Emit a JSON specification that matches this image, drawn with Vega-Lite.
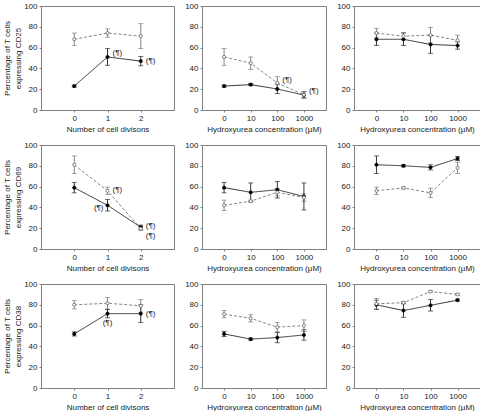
{
  "$schema": "https://vega.github.io/schema/vega-lite/v6.json",
  "padding": {"left": 3, "top": 1, "right": 0, "bottom": 0},
  "background": "white",
  "config": {
    "font": "Liberation Sans",
    "view": {"stroke": "#808080", "strokeWidth": 1},
    "axis": {"grid": false, "labelFontSize": 8, "titleFontSize": 8, "titleFontWeight": "normal", "labelColor": "#222222", "titleColor": "#222222", "domainColor": "#808080", "tickColor": "#808080", "tickSize": 2, "labelPadding": 2, "domainWidth": 1, "labelFont": "Liberation Sans", "titleFont": "Liberation Sans"},
    "axisX": {"labelAngle": 0, "titlePadding": 3},
    "axisY": {"titlePadding": 1, "titleLineHeight": 11}
  },
  "datasets": {
    "p1": [
      {"div": 0, "pct": 23, "err": 1, "group": "Group 1"},
      {"div": 1, "pct": 51, "err": 8, "group": "Group 1"},
      {"div": 2, "pct": 47, "err": 4.5, "group": "Group 1"},
      {"div": 0, "pct": 68, "err": 6, "group": "Group 2"},
      {"div": 1, "pct": 74, "err": 4, "group": "Group 2"},
      {"div": 2, "pct": 71, "err": 12, "group": "Group 2"}
    ],
    "p2": [
      {"conc": "0", "pct": 23, "err": 1, "group": "Group 1"},
      {"conc": "10", "pct": 24.4, "err": 1, "group": "Group 1"},
      {"conc": "100", "pct": 20.2, "err": 4.5, "group": "Group 1"},
      {"conc": "1000", "pct": 14.4, "err": 3, "group": "Group 1"},
      {"conc": "0", "pct": 51, "err": 8, "group": "Group 2"},
      {"conc": "10", "pct": 45, "err": 6, "group": "Group 2"},
      {"conc": "100", "pct": 26, "err": 6, "group": "Group 2"},
      {"conc": "1000", "pct": 14.7, "err": 3, "group": "Group 2"}
    ],
    "p3": [
      {"conc": "0", "pct": 68, "err": 6, "group": "Group 1"},
      {"conc": "10", "pct": 68, "err": 6, "group": "Group 1"},
      {"conc": "100", "pct": 63, "err": 8.5, "group": "Group 1"},
      {"conc": "1000", "pct": 62, "err": 3.5, "group": "Group 1"},
      {"conc": "0", "pct": 74, "err": 4.5, "group": "Group 2"},
      {"conc": "10", "pct": 71, "err": 3.5, "group": "Group 2"},
      {"conc": "100", "pct": 72, "err": 7.5, "group": "Group 2"},
      {"conc": "1000", "pct": 67, "err": 5, "group": "Group 2"}
    ],
    "p4": [
      {"div": 0, "pct": 59, "err": 5, "group": "Group 1"},
      {"div": 1, "pct": 42, "err": 5.5, "group": "Group 1"},
      {"div": 2, "pct": 21, "err": 2, "group": "Group 1"},
      {"div": 0, "pct": 81, "err": 8.5, "group": "Group 2"},
      {"div": 1, "pct": 56, "err": 3.5, "group": "Group 2"},
      {"div": 2, "pct": 19.6, "err": 2, "group": "Group 2"}
    ],
    "p5": [
      {"conc": "0", "pct": 59, "err": 5, "group": "Group 1"},
      {"conc": "10", "pct": 54.5, "err": 9, "group": "Group 1"},
      {"conc": "100", "pct": 57, "err": 8, "group": "Group 1"},
      {"conc": "1000", "pct": 50.5, "err": 13, "group": "Group 1"},
      {"conc": "0", "pct": 42, "err": 5, "group": "Group 2"},
      {"conc": "10", "pct": 46, "err": 1, "group": "Group 2"},
      {"conc": "100", "pct": 54.5, "err": 3.5, "group": "Group 2"},
      {"conc": "1000", "pct": 49.5, "err": 3.5, "group": "Group 2"}
    ],
    "p6": [
      {"conc": "0", "pct": 81, "err": 8.5, "group": "Group 1"},
      {"conc": "10", "pct": 80, "err": 1, "group": "Group 1"},
      {"conc": "100", "pct": 78.5, "err": 2.5, "group": "Group 1"},
      {"conc": "1000", "pct": 87, "err": 2, "group": "Group 1"},
      {"conc": "0", "pct": 56, "err": 3.5, "group": "Group 2"},
      {"conc": "10", "pct": 58.7, "err": 1, "group": "Group 2"},
      {"conc": "100", "pct": 54, "err": 4.5, "group": "Group 2"},
      {"conc": "1000", "pct": 78, "err": 5.5, "group": "Group 2"}
    ],
    "p7": [
      {"div": 0, "pct": 52, "err": 2, "group": "Group 1"},
      {"div": 1, "pct": 71.5, "err": 4, "group": "Group 1"},
      {"div": 2, "pct": 71.5, "err": 8.5, "group": "Group 1"},
      {"div": 0, "pct": 80, "err": 4, "group": "Group 2"},
      {"div": 1, "pct": 81.5, "err": 5.5, "group": "Group 2"},
      {"div": 2, "pct": 79, "err": 6, "group": "Group 2"}
    ],
    "p8": [
      {"conc": "0", "pct": 52, "err": 2.5, "group": "Group 1"},
      {"conc": "10", "pct": 47, "err": 1, "group": "Group 1"},
      {"conc": "100", "pct": 48.5, "err": 5, "group": "Group 1"},
      {"conc": "1000", "pct": 51, "err": 5, "group": "Group 1"},
      {"conc": "0", "pct": 71, "err": 3.5, "group": "Group 2"},
      {"conc": "10", "pct": 67, "err": 3.5, "group": "Group 2"},
      {"conc": "100", "pct": 58.5, "err": 4.5, "group": "Group 2"},
      {"conc": "1000", "pct": 60, "err": 5.5, "group": "Group 2"}
    ],
    "p9": [
      {"conc": "0", "pct": 80, "err": 4.5, "group": "Group 1"},
      {"conc": "10", "pct": 74.5, "err": 6.5, "group": "Group 1"},
      {"conc": "100", "pct": 79.5, "err": 5.5, "group": "Group 1"},
      {"conc": "1000", "pct": 84.5, "err": 1, "group": "Group 1"},
      {"conc": "0", "pct": 81, "err": 5, "group": "Group 2"},
      {"conc": "10", "pct": 82, "err": 1, "group": "Group 2"},
      {"conc": "100", "pct": 92.7, "err": 1, "group": "Group 2"},
      {"conc": "1000", "pct": 90, "err": 1, "group": "Group 2"}
    ],
    "a1": [{"div": 1, "pct": 55, "label": "(¶)"}, {"div": 2, "pct": 47, "label": "(¶)"}],
    "a2": [{"conc": "100", "pct": 29, "label": "(¶)"}, {"conc": "1000", "pct": 18, "label": "(¶)"}],
    "a4r": [{"div": 1, "pct": 57, "label": "(¶)"}, {"div": 2, "pct": 22.5, "label": "(¶)"}, {"div": 2, "pct": 12.5, "label": "(¶)"}],
    "a4l": [{"div": 1, "pct": 39, "label": "(¶)"}],
    "a7r": [{"div": 2, "pct": 71.5, "label": "(¶)"}],
    "a7c": [{"div": 1, "pct": 62.5, "label": "(¶)"}]
  },
  "columns": 3,
  "spacing": {"row": 35, "column": 28},
  "bounds": "flush",
  "align": "each",
  "concat": [
        {
          "width": 133, "height": 104,
          "data": {"name": "p1"},
          "encoding": {
            "x": {"field": "div", "type": "quantitative", "scale": {"domain": [-1, 3], "nice": false}, "axis": {"values": [0, 1, 2], "format": "d", "title": "Number of cell divisons"}},
            "y": {"field": "pct", "type": "quantitative", "scale": {"domain": [0, 100], "nice": false}, "axis": {"values": [0, 20, 40, 60, 80, 100], "title": ["Percentage of T cells", "expressing CD25"]}}
          },
          "layer": [
            {"mark": {"type": "line", "strokeWidth": 0.8}, "encoding": {"color": {"field": "group", "type": "nominal", "scale": {"domain": ["Group 1", "Group 2"], "range": ["#000000", "#666666"]}, "legend": null}, "strokeDash": {"field": "group", "type": "nominal", "scale": {"domain": ["Group 1", "Group 2"], "range": [[1, 0], [3, 2]]}, "legend": null}}},
            {"mark": {"type": "errorbar", "ticks": {"size": 5}, "thickness": 0.8}, "encoding": {"yError": {"field": "err"}, "color": {"field": "group", "type": "nominal", "legend": null}}},
            {"mark": {"type": "point", "filled": true, "size": 10, "strokeWidth": 0.8, "opacity": 1}, "encoding": {"fill": {"field": "group", "type": "nominal", "scale": {"domain": ["Group 1", "Group 2"], "range": ["#000000", "#ffffff"]}, "legend": null}, "stroke": {"field": "group", "type": "nominal", "scale": {"domain": ["Group 1", "Group 2"], "range": ["#000000", "#666666"]}, "legend": null}}},
            {"data": {"name": "a1"}, "mark": {"type": "text", "align": "left", "dx": 5, "fontSize": 8, "color": "#222222"}, "encoding": {"text": {"field": "label"}}}
          ]
        },
        {
          "width": 124, "height": 104,
          "data": {"name": "p2"},
          "encoding": {
            "x": {"field": "conc", "type": "ordinal", "sort": ["0", "10", "100", "1000"], "scale": {"type": "point", "padding": 0.83}, "axis": {"title": "Hydroxyurea concentration (µM)"}},
            "y": {"field": "pct", "type": "quantitative", "scale": {"domain": [0, 100], "nice": false}, "axis": {"values": [0, 20, 40, 60, 80, 100], "title": null}}
          },
          "layer": [
            {"mark": {"type": "line", "strokeWidth": 0.8}, "encoding": {"color": {"field": "group", "type": "nominal", "scale": {"domain": ["Group 1", "Group 2"], "range": ["#000000", "#666666"]}, "legend": null}, "strokeDash": {"field": "group", "type": "nominal", "scale": {"domain": ["Group 1", "Group 2"], "range": [[1, 0], [3, 2]]}, "legend": null}}},
            {"mark": {"type": "errorbar", "ticks": {"size": 5}, "thickness": 0.8}, "encoding": {"yError": {"field": "err"}, "color": {"field": "group", "type": "nominal", "legend": null}}},
            {"mark": {"type": "point", "filled": true, "size": 10, "strokeWidth": 0.8, "opacity": 1}, "encoding": {"fill": {"field": "group", "type": "nominal", "scale": {"domain": ["Group 1", "Group 2"], "range": ["#000000", "#ffffff"]}, "legend": null}, "stroke": {"field": "group", "type": "nominal", "scale": {"domain": ["Group 1", "Group 2"], "range": ["#000000", "#666666"]}, "legend": null}}},
            {"data": {"name": "a2"}, "mark": {"type": "text", "align": "left", "dx": 5, "fontSize": 8, "color": "#222222"}, "encoding": {"text": {"field": "label"}}}
          ]
        },
        {
          "width": 126, "height": 104,
          "data": {"name": "p3"},
          "encoding": {
            "x": {"field": "conc", "type": "ordinal", "sort": ["0", "10", "100", "1000"], "scale": {"type": "point", "padding": 0.83}, "axis": {"title": "Hydroxyurea concentration (µM)"}},
            "y": {"field": "pct", "type": "quantitative", "scale": {"domain": [0, 100], "nice": false}, "axis": {"values": [0, 20, 40, 60, 80, 100], "title": null}}
          },
          "layer": [
            {"mark": {"type": "line", "strokeWidth": 0.8}, "encoding": {"color": {"field": "group", "type": "nominal", "scale": {"domain": ["Group 1", "Group 2"], "range": ["#000000", "#666666"]}, "legend": null}, "strokeDash": {"field": "group", "type": "nominal", "scale": {"domain": ["Group 1", "Group 2"], "range": [[1, 0], [3, 2]]}, "legend": null}}},
            {"mark": {"type": "errorbar", "ticks": {"size": 5}, "thickness": 0.8}, "encoding": {"yError": {"field": "err"}, "color": {"field": "group", "type": "nominal", "legend": null}}},
            {"mark": {"type": "point", "filled": true, "size": 10, "strokeWidth": 0.8, "opacity": 1}, "encoding": {"fill": {"field": "group", "type": "nominal", "scale": {"domain": ["Group 1", "Group 2"], "range": ["#000000", "#ffffff"]}, "legend": null}, "stroke": {"field": "group", "type": "nominal", "scale": {"domain": ["Group 1", "Group 2"], "range": ["#000000", "#666666"]}, "legend": null}}}
          ]
        },
        {
          "width": 133, "height": 104,
          "data": {"name": "p4"},
          "encoding": {
            "x": {"field": "div", "type": "quantitative", "scale": {"domain": [-1, 3], "nice": false}, "axis": {"values": [0, 1, 2], "format": "d", "title": "Number of cell divisons"}},
            "y": {"field": "pct", "type": "quantitative", "scale": {"domain": [0, 100], "nice": false}, "axis": {"values": [0, 20, 40, 60, 80, 100], "title": ["Percentage of T cells", "expressing CD69"]}}
          },
          "layer": [
            {"mark": {"type": "line", "strokeWidth": 0.8}, "encoding": {"color": {"field": "group", "type": "nominal", "scale": {"domain": ["Group 1", "Group 2"], "range": ["#000000", "#666666"]}, "legend": null}, "strokeDash": {"field": "group", "type": "nominal", "scale": {"domain": ["Group 1", "Group 2"], "range": [[1, 0], [3, 2]]}, "legend": null}}},
            {"mark": {"type": "errorbar", "ticks": {"size": 5}, "thickness": 0.8}, "encoding": {"yError": {"field": "err"}, "color": {"field": "group", "type": "nominal", "legend": null}}},
            {"mark": {"type": "point", "filled": true, "size": 10, "strokeWidth": 0.8, "opacity": 1}, "encoding": {"fill": {"field": "group", "type": "nominal", "scale": {"domain": ["Group 1", "Group 2"], "range": ["#000000", "#ffffff"]}, "legend": null}, "stroke": {"field": "group", "type": "nominal", "scale": {"domain": ["Group 1", "Group 2"], "range": ["#000000", "#666666"]}, "legend": null}}},
            {"data": {"name": "a4r"}, "mark": {"type": "text", "align": "left", "dx": 5, "fontSize": 8, "color": "#222222"}, "encoding": {"text": {"field": "label"}}},
            {"data": {"name": "a4l"}, "mark": {"type": "text", "align": "right", "dx": -4, "fontSize": 8, "color": "#222222"}, "encoding": {"text": {"field": "label"}}}
          ]
        },
        {
          "width": 124, "height": 104,
          "data": {"name": "p5"},
          "encoding": {
            "x": {"field": "conc", "type": "ordinal", "sort": ["0", "10", "100", "1000"], "scale": {"type": "point", "padding": 0.83}, "axis": {"title": "Hydroxyurea concentration (µM)"}},
            "y": {"field": "pct", "type": "quantitative", "scale": {"domain": [0, 100], "nice": false}, "axis": {"values": [0, 20, 40, 60, 80, 100], "title": null}}
          },
          "layer": [
            {"mark": {"type": "line", "strokeWidth": 0.8}, "encoding": {"color": {"field": "group", "type": "nominal", "scale": {"domain": ["Group 1", "Group 2"], "range": ["#000000", "#666666"]}, "legend": null}, "strokeDash": {"field": "group", "type": "nominal", "scale": {"domain": ["Group 1", "Group 2"], "range": [[1, 0], [3, 2]]}, "legend": null}}},
            {"mark": {"type": "errorbar", "ticks": {"size": 5}, "thickness": 0.8}, "encoding": {"yError": {"field": "err"}, "color": {"field": "group", "type": "nominal", "legend": null}}},
            {"mark": {"type": "point", "filled": true, "size": 10, "strokeWidth": 0.8, "opacity": 1}, "encoding": {"fill": {"field": "group", "type": "nominal", "scale": {"domain": ["Group 1", "Group 2"], "range": ["#000000", "#ffffff"]}, "legend": null}, "stroke": {"field": "group", "type": "nominal", "scale": {"domain": ["Group 1", "Group 2"], "range": ["#000000", "#666666"]}, "legend": null}}}
          ]
        },
        {
          "width": 126, "height": 104,
          "data": {"name": "p6"},
          "encoding": {
            "x": {"field": "conc", "type": "ordinal", "sort": ["0", "10", "100", "1000"], "scale": {"type": "point", "padding": 0.83}, "axis": {"title": "Hydroxyurea concentration (µM)"}},
            "y": {"field": "pct", "type": "quantitative", "scale": {"domain": [0, 100], "nice": false}, "axis": {"values": [0, 20, 40, 60, 80, 100], "title": null}}
          },
          "layer": [
            {"mark": {"type": "line", "strokeWidth": 0.8}, "encoding": {"color": {"field": "group", "type": "nominal", "scale": {"domain": ["Group 1", "Group 2"], "range": ["#000000", "#666666"]}, "legend": null}, "strokeDash": {"field": "group", "type": "nominal", "scale": {"domain": ["Group 1", "Group 2"], "range": [[1, 0], [3, 2]]}, "legend": null}}},
            {"mark": {"type": "errorbar", "ticks": {"size": 5}, "thickness": 0.8}, "encoding": {"yError": {"field": "err"}, "color": {"field": "group", "type": "nominal", "legend": null}}},
            {"mark": {"type": "point", "filled": true, "size": 10, "strokeWidth": 0.8, "opacity": 1}, "encoding": {"fill": {"field": "group", "type": "nominal", "scale": {"domain": ["Group 1", "Group 2"], "range": ["#000000", "#ffffff"]}, "legend": null}, "stroke": {"field": "group", "type": "nominal", "scale": {"domain": ["Group 1", "Group 2"], "range": ["#000000", "#666666"]}, "legend": null}}}
          ]
        },
        {
          "width": 133, "height": 104,
          "data": {"name": "p7"},
          "encoding": {
            "x": {"field": "div", "type": "quantitative", "scale": {"domain": [-1, 3], "nice": false}, "axis": {"values": [0, 1, 2], "format": "d", "title": "Number of cell divisons"}},
            "y": {"field": "pct", "type": "quantitative", "scale": {"domain": [0, 100], "nice": false}, "axis": {"values": [0, 20, 40, 60, 80, 100], "title": ["Percentage of T cells", "expressing CD38"]}}
          },
          "layer": [
            {"mark": {"type": "line", "strokeWidth": 0.8}, "encoding": {"color": {"field": "group", "type": "nominal", "scale": {"domain": ["Group 1", "Group 2"], "range": ["#000000", "#666666"]}, "legend": null}, "strokeDash": {"field": "group", "type": "nominal", "scale": {"domain": ["Group 1", "Group 2"], "range": [[1, 0], [3, 2]]}, "legend": null}}},
            {"mark": {"type": "errorbar", "ticks": {"size": 5}, "thickness": 0.8}, "encoding": {"yError": {"field": "err"}, "color": {"field": "group", "type": "nominal", "legend": null}}},
            {"mark": {"type": "point", "filled": true, "size": 10, "strokeWidth": 0.8, "opacity": 1}, "encoding": {"fill": {"field": "group", "type": "nominal", "scale": {"domain": ["Group 1", "Group 2"], "range": ["#000000", "#ffffff"]}, "legend": null}, "stroke": {"field": "group", "type": "nominal", "scale": {"domain": ["Group 1", "Group 2"], "range": ["#000000", "#666666"]}, "legend": null}}},
            {"data": {"name": "a7r"}, "mark": {"type": "text", "align": "left", "dx": 5, "fontSize": 8, "color": "#222222"}, "encoding": {"text": {"field": "label"}}},
            {"data": {"name": "a7c"}, "mark": {"type": "text", "align": "center", "fontSize": 8, "color": "#222222"}, "encoding": {"text": {"field": "label"}}}
          ]
        },
        {
          "width": 124, "height": 104,
          "data": {"name": "p8"},
          "encoding": {
            "x": {"field": "conc", "type": "ordinal", "sort": ["0", "10", "100", "1000"], "scale": {"type": "point", "padding": 0.83}, "axis": {"title": "Hydroxyurea concentration (µM)"}},
            "y": {"field": "pct", "type": "quantitative", "scale": {"domain": [0, 100], "nice": false}, "axis": {"values": [0, 20, 40, 60, 80, 100], "title": null}}
          },
          "layer": [
            {"mark": {"type": "line", "strokeWidth": 0.8}, "encoding": {"color": {"field": "group", "type": "nominal", "scale": {"domain": ["Group 1", "Group 2"], "range": ["#000000", "#666666"]}, "legend": null}, "strokeDash": {"field": "group", "type": "nominal", "scale": {"domain": ["Group 1", "Group 2"], "range": [[1, 0], [3, 2]]}, "legend": null}}},
            {"mark": {"type": "errorbar", "ticks": {"size": 5}, "thickness": 0.8}, "encoding": {"yError": {"field": "err"}, "color": {"field": "group", "type": "nominal", "legend": null}}},
            {"mark": {"type": "point", "filled": true, "size": 10, "strokeWidth": 0.8, "opacity": 1}, "encoding": {"fill": {"field": "group", "type": "nominal", "scale": {"domain": ["Group 1", "Group 2"], "range": ["#000000", "#ffffff"]}, "legend": null}, "stroke": {"field": "group", "type": "nominal", "scale": {"domain": ["Group 1", "Group 2"], "range": ["#000000", "#666666"]}, "legend": null}}}
          ]
        },
        {
          "width": 126, "height": 104,
          "data": {"name": "p9"},
          "encoding": {
            "x": {"field": "conc", "type": "ordinal", "sort": ["0", "10", "100", "1000"], "scale": {"type": "point", "padding": 0.83}, "axis": {"title": "Hydroxyurea concentration (µM)"}},
            "y": {"field": "pct", "type": "quantitative", "scale": {"domain": [0, 100], "nice": false}, "axis": {"values": [0, 20, 40, 60, 80, 100], "title": null}}
          },
          "layer": [
            {"mark": {"type": "line", "strokeWidth": 0.8}, "encoding": {"color": {"field": "group", "type": "nominal", "scale": {"domain": ["Group 1", "Group 2"], "range": ["#000000", "#666666"]}, "legend": null}, "strokeDash": {"field": "group", "type": "nominal", "scale": {"domain": ["Group 1", "Group 2"], "range": [[1, 0], [3, 2]]}, "legend": null}}},
            {"mark": {"type": "errorbar", "ticks": {"size": 5}, "thickness": 0.8}, "encoding": {"yError": {"field": "err"}, "color": {"field": "group", "type": "nominal", "legend": null}}},
            {"mark": {"type": "point", "filled": true, "size": 10, "strokeWidth": 0.8, "opacity": 1}, "encoding": {"fill": {"field": "group", "type": "nominal", "scale": {"domain": ["Group 1", "Group 2"], "range": ["#000000", "#ffffff"]}, "legend": null}, "stroke": {"field": "group", "type": "nominal", "scale": {"domain": ["Group 1", "Group 2"], "range": ["#000000", "#666666"]}, "legend": null}}}
          ]
        }
  ]
}
